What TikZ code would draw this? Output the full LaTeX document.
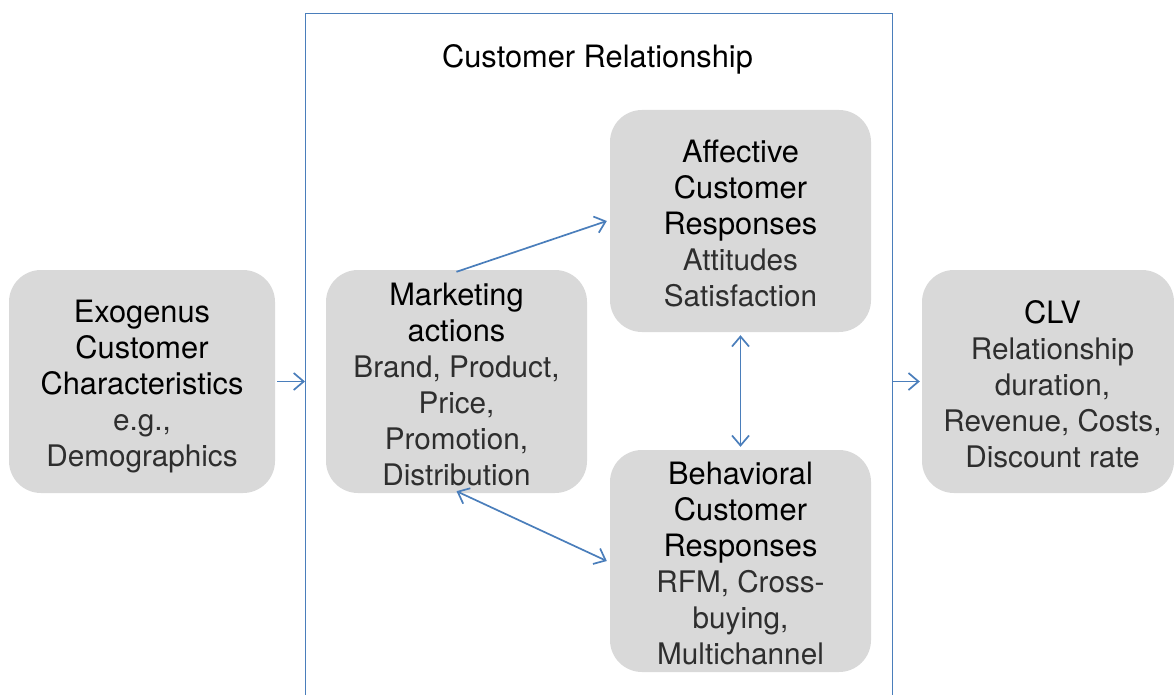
\documentclass[tikz,border=0pt]{standalone}
\usepackage{fontspec}
\setmainfont{TeX Gyre Heros}
\usetikzlibrary{arrows.meta}
\definecolor{boxgray}{HTML}{D9D9D9}
\definecolor{linkblue}{HTML}{4A7EBB}
\definecolor{bodytext}{HTML}{2E2E2E}
\tikzset{
  stagebox/.style={fill=boxgray, draw=none, rounded corners=32pt, inner sep=0pt},
  stagetext/.style={align=center, inner sep=0pt, font=\fontsize{30.8}{36}\selectfont},
  link/.style={draw=linkblue, line width=1.7pt, -{Straight Barb[length=10pt,width=17pt,line width=1.7pt]}},
  biglink/.style={draw=linkblue, line width=1.7pt, {Straight Barb[length=10pt,width=17pt,line width=1.7pt]}-{Straight Barb[length=10pt,width=17pt,line width=1.7pt]}},
  framebox/.style={draw=linkblue, line width=1.3pt, minimum width=587pt, minimum height=740pt, inner sep=0pt, anchor=north west},
  headline/.style={font=\fontsize{30.8}{36}\selectfont}
}
\newcommand{\bodyline}[1]{{\fontsize{29.7}{36}\selectfont\textcolor{bodytext}{#1}}}
\begin{document}
\begin{tikzpicture}[x=1pt,y=-1pt]
\useasboundingbox (0,0) rectangle (1174,695);
\node[framebox] (frame) at (305,13) {};
\node[headline] (title) at (597.5,59) {Customer Relationship};
\node[stagebox, minimum width=266pt, minimum height=223pt] (exo) at (142,381.5) {};
\node[stagebox, minimum width=261pt, minimum height=223pt] (mk) at (456.5,381.5) {};
\node[stagebox, minimum width=261pt, minimum height=222pt] (aff) at (740.5,221) {};
\node[stagebox, minimum width=261pt, minimum height=222pt] (beh) at (740.5,561) {};
\node[stagebox, minimum width=252pt, minimum height=223pt] (clv) at (1048,381.5) {};
\node[stagetext] (exotext) at (142,387) {Exogenus\\Customer\\Characteristics\\\bodyline{e.g.,}\\\bodyline{Demographics}};
\node[stagetext] (mktext) at (456.5,384.5) {Marketing\\actions\\\bodyline{Brand, Product,}\\\bodyline{Price,}\\\bodyline{Promotion,}\\\bodyline{Distribution}};
\node[stagetext] (afftext) at (740.5,223.5) {Affective\\Customer\\Responses\\\bodyline{Attitudes}\\\bodyline{Satisfaction}};
\node[stagetext] (behtext) at (740.5,563.5) {Behavioral\\Customer\\Responses\\\bodyline{RFM, Cross-}\\\bodyline{buying,}\\\bodyline{Multichannel}};
\node[stagetext] (clvtext) at (1052.5,384.5) {CLV\\\bodyline{Relationship}\\\bodyline{duration,}\\\bodyline{Revenue, Costs,}\\\bodyline{Discount rate}};
\draw[link] (exo.east) ++(2pt,0) -- (exo.east -| frame.west);
\draw[link] (clv.west -| frame.east) -- ([xshift=-2pt]clv.west);
\draw[link] ([yshift=-2pt]mk.north) -- ([xshift=-3pt]aff.west);
\draw[biglink] ([yshift=2pt]mk.south) -- ([xshift=-3pt]beh.west);
\draw[biglink, shorten <=3pt, shorten >=3pt] (aff.south) -- (beh.north);
\end{tikzpicture}
\end{document}
